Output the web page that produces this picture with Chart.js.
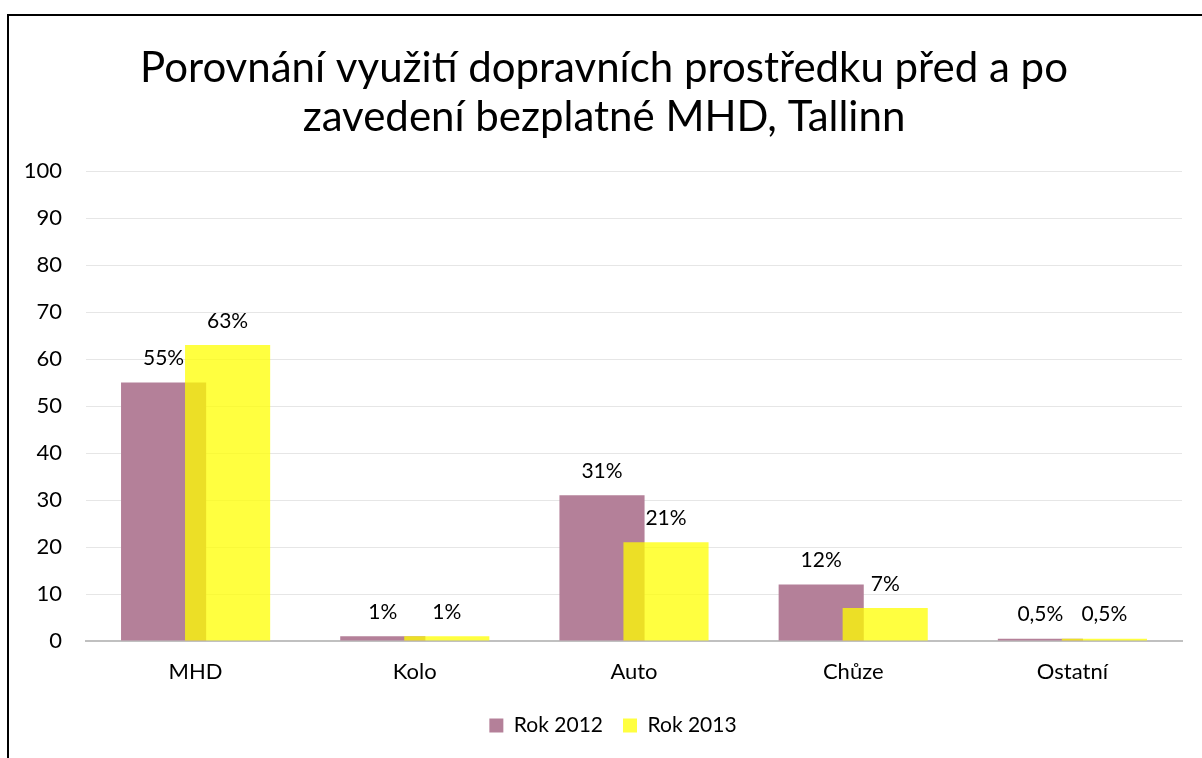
<!DOCTYPE html>
<html>
<head>
<meta charset="utf-8">
<script src="https://cdn.jsdelivr.net/npm/chart.js@4"></script>
<style>
  html, body { margin: 0; padding: 0; background: #fff; overflow: hidden; }
  #frame { position: absolute; left: 7px; top: 14px; width: 1400px; height: 900px; border-left: 2px solid #000; border-top: 2px solid #000; }
  #chartJsCanvas { position: absolute; left: 0; top: 0; }
</style>
</head>
<body>
<div id="frame"></div>
<canvas id="chartJsCanvas" width="1202" height="758"></canvas>
<script>
const categories = ["MHD", "Kolo", "Auto", "Chůze", "Ostatní"];
const rok2012 = [55, 1, 31, 12, 0.5];
const rok2013 = [63, 1, 21, 7, 0.5];
const yTicks = [0, 10, 20, 30, 40, 50, 60, 70, 80, 90, 100];

const FONT = "Lato, 'Open Sans', sans-serif";

// žluté sloupce (2013) mají být nakreslené přes fialové (2012)
const drawOrder = {
  id: 'drawOrder',
  beforeDatasetsDraw(chart) {
    chart.data.datasets.forEach((ds, i) => {
      const meta = chart.getDatasetMeta(i);
      if (!meta.hidden) meta.controller.draw();
    });
    return false;
  }
};

// hodnoty nad sloupci, s desetinnou čárkou
const valueLabels = {
  id: 'valueLabels',
  afterDraw(chart) {
    const ctx = chart.ctx;
    ctx.save();
    ctx.font = "21px " + FONT;
    ctx.fillStyle = "#000";
    ctx.textAlign = "center";
    ctx.textBaseline = "middle";
    chart.data.datasets.forEach((ds, i) => {
      chart.getDatasetMeta(i).data.forEach((bar, j) => {
        const txt = String(ds.data[j]).replace('.', ',') + '%';
        ctx.fillText(txt, bar.x, bar.y - 24);
      });
    });
    ctx.restore();
  }
};

// titulek a legenda jsou v originále trochu víc vpravo
const shiftBoxes = {
  id: 'shiftBoxes',
  afterLayout(chart) {
    const move = (box, d) => { if (box) { box.left += d; box.right += d; } };
    move(chart.titleBlock, 13);
    move(chart.legend, 22);
  }
};

new Chart(document.getElementById("chartJsCanvas"), {
  type: 'bar',
  data: {
    labels: categories,
    datasets: [
      {
        label: "Rok 2012",
        data: rok2012,
        backgroundColor: "rgb(180,128,153)",
        categoryPercentage: 0.584,
        barPercentage: 1.33
      },
      {
        label: "Rok 2013",
        data: rok2013,
        backgroundColor: "rgba(255,255,0,0.75)",
        categoryPercentage: 0.584,
        barPercentage: 1.33
      }
    ]
  },
  options: {
    responsive: false,
    animation: false,
    devicePixelRatio: 1,
    layout: { padding: { left: 0, right: 20, top: 0, bottom: 12 } },
    scales: {
      x: {
        grid: { display: false, drawTicks: false },
        border: { display: true, color: "#c0c0c0", width: 2 },
        ticks: { color: "#000", font: { family: FONT, size: 22 }, padding: 18 },
        afterFit: (s) => { s.height = 54; }
      },
      y: {
        min: 0,
        max: 100,
        afterBuildTicks: (s) => { s.ticks = yTicks.map(v => ({ value: v })); },
        grid: { color: "#e6e6e6", lineWidth: 1, drawTicks: false },
        border: { display: false },
        ticks: { color: "#000", font: { family: FONT, size: 22 }, padding: 24 },
        afterFit: (s) => { s.width = 86; }
      }
    },
    plugins: {
      title: {
        display: true,
        text: ["Porovnání využití dopravních prostředku před a po", "zavedení bezplatné MHD, Tallinn"],
        color: "#000",
        font: { family: FONT, size: 42, weight: 'normal', lineHeight: 1.167 },
        padding: { top: 44, bottom: 29 }
      },
      legend: {
        position: 'bottom',
        labels: {
          color: "#000",
          font: { family: FONT, size: 21 },
          boxWidth: 14,
          boxHeight: 14,
          padding: 20
        }
      },
      tooltip: { enabled: false }
    }
  },
  plugins: [drawOrder, valueLabels, shiftBoxes]
});
</script>
</body>
</html>
